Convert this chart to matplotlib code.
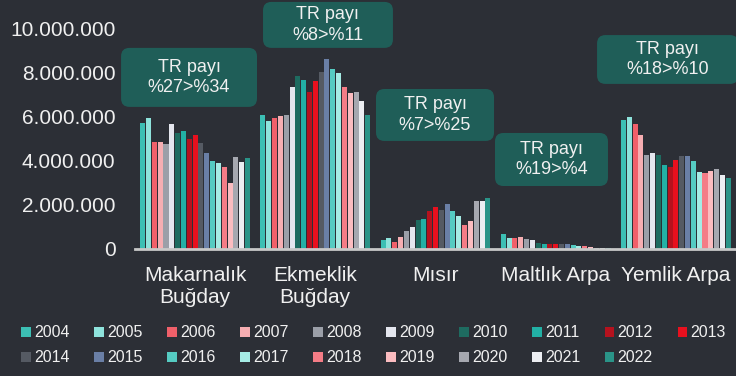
import numpy as np
import matplotlib.pyplot as plt
from matplotlib.patches import FancyBboxPatch, Patch
from matplotlib.ticker import FuncFormatter

plt.rcParams['font.family'] = ['Liberation Sans', 'DejaVu Sans']

categories = ['Makarnalık\nBuğday', 'Ekmeklik\nBuğday', 'Mısır', 'Maltlık Arpa', 'Yemlik Arpa']
years = [str(y) for y in range(2004, 2023)]

# production per crop, one value per year 2004..2022
makarnalik = [5.69, 5.91, 4.86, 4.86, 4.75, 5.66, 5.26, 5.34, 4.96, 5.16,
              4.78, 4.33, 3.98, 3.89, 3.71, 2.97, 4.16, 3.95, 4.12]
ekmeklik = [6.06, 5.79, 5.91, 6.02, 6.06, 7.34, 7.81, 7.65, 7.12, 7.60,
            8.02, 8.60, 8.13, 7.95, 7.34, 7.05, 7.12, 6.68, 6.05]
misir = [0.39, 0.51, 0.32, 0.54, 0.81, 1.00, 1.31, 1.36, 1.72, 1.90,
         1.78, 2.04, 1.73, 1.48, 1.09, 1.27, 2.17, 2.16, 2.29]
maltlik = [0.68, 0.50, 0.50, 0.56, 0.45, 0.41, 0.29, 0.23, 0.21, 0.21,
           0.21, 0.21, 0.18, 0.15, 0.14, 0.09, 0.05, 0.05, 0.05]
yemlik = [5.84, 5.99, 5.64, 5.16, 4.25, 4.33, 4.25, 3.79, 3.72, 4.03,
          4.22, 4.22, 3.98, 3.47, 3.45, 3.53, 3.61, 3.36, 3.21]

colors = ['#3cbfb4', '#8ee3dc', '#f0606a', '#f6aeb2', '#9b9fa8', '#e4e6ee',
          '#1e6b60', '#22b0a5', '#b5121e', '#e8101e', '#555a63', '#6a7fa6',
          '#55cbc2', '#a5ece5', '#f47c86', '#fbbcc0', '#a6a8b0', '#eceef2',
          '#2a9488']

share_labels = ['TR payı\n%27>%34', 'TR payı\n%8>%11', 'TR payı\n%7>%25',
                'TR payı\n%19>%4', 'TR payı\n%18>%10']
# callout boxes: (x0, x1, y0, y1) in category units / millions
share_boxes = [(-0.616, 0.515, 6.43, 9.10), (0.565, 1.646, 9.10, 11.18),
               (1.505, 2.487, 4.89, 7.24), (2.495, 3.435, 2.85, 5.25),
               (3.344, 4.52, 7.47, 9.68)]

bg = '#2c2f36'
fg = '#f0f0f0'
box_col = '#1f5e58'

values = np.array([makarnalik, ekmeklik, misir, maltlik, yemlik]) * 1e6

fig = plt.figure(figsize=(7.36, 3.76), dpi=100, facecolor=bg)
ax = fig.add_axes([135 / 736, 127 / 376, 601 / 736, 221 / 376], facecolor=bg)

n = len(years)
group_w = 0.92
slot = group_w / n
x = np.arange(len(categories))
for i in range(n):
    pos = x - group_w / 2 + slot * (i + 0.5)
    ax.bar(pos, values[:, i], width=slot * 0.86, color=colors[i], zorder=2)

ax.set_xlim(-0.5, len(categories) - 0.5)
ax.set_ylim(0, 10e6)
ax.set_yticks(np.arange(0, 10.5e6, 2e6))
ax.yaxis.set_major_formatter(FuncFormatter(lambda v, p: f'{int(v):,}'.replace(',', '.')))
ax.set_xticks(x)
ax.set_xticklabels(categories, linespacing=1.2)
ax.tick_params(axis='both', length=0, colors=fg, labelsize=15)
ax.tick_params(axis='y', pad=14)
ax.tick_params(axis='x', pad=12)
for s in ['top', 'right', 'left']:
    ax.spines[s].set_visible(False)
ax.spines['bottom'].set_color('#c8c8c8')
ax.spines['bottom'].set_linewidth(2)

# px per unit on each axis, used to keep the rounded corners round
px_x = 601 / len(categories)
px_y = 221 / 10e6
for (x0, x1, y0, y1), lab in zip(share_boxes, share_labels):
    patch = FancyBboxPatch((x0, y0 * 1e6), x1 - x0, (y1 - y0) * 1e6,
                           boxstyle='round,pad=0,rounding_size=0.07',
                           mutation_aspect=px_x / px_y,
                           facecolor=box_col, edgecolor='none',
                           clip_on=False, zorder=4)
    ax.add_patch(patch)
    ax.text((x0 + x1) / 2, (y0 + y1) / 2 * 1e6, lab, ha='center', va='center',
            color=fg, fontsize=13, linespacing=1.25, zorder=5, clip_on=False)

# legend laid out row by row: 2004-2013 on top, 2014-2022 below
handles = [Patch(facecolor=c, edgecolor='none') for c in colors]
order = []
for c in range(10):
    order.append(c)
    if c + 10 < n:
        order.append(c + 10)
leg = fig.legend([handles[i] for i in order], [years[i] for i in order],
                 ncol=10, loc='upper left', bbox_to_anchor=(15 / 736, 1 - 319 / 376),
                 frameon=False, fontsize=11.5, labelcolor=fg,
                 handlelength=0.6, handleheight=0.6, handletextpad=0.2,
                 columnspacing=1.55, labelspacing=0.62, borderaxespad=0)

fig.savefig('out.png', dpi=100, facecolor=bg)
